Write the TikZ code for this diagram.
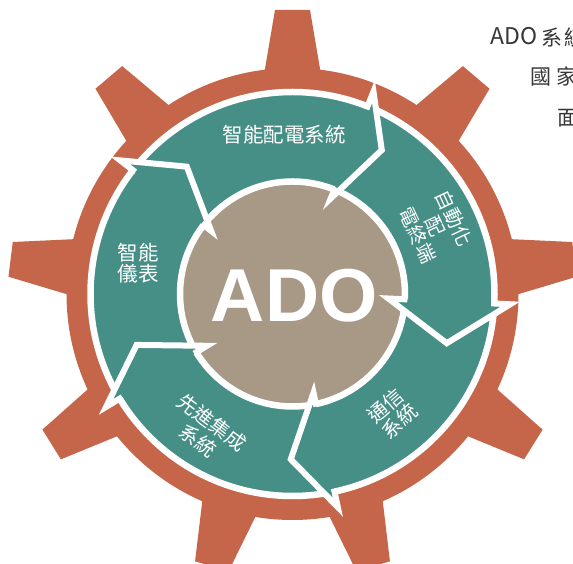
\documentclass[tikz,border=0pt]{standalone}
\usepackage{fontspec}
\newfontfamily\cjk{Noto Sans CJK TC}
\newfontfamily\adofont{Liberation Sans}
\definecolor{gearc}{RGB}{197,102,74}
\definecolor{ringc}{RGB}{70,143,134}
\definecolor{corec}{RGB}{168,152,134}
\definecolor{sidetext}{RGB}{55,55,55}
\tikzset{
  lbl/.style={text=white, font=\cjk\fontsize{20.5}{21}\selectfont, align=center, inner sep=0pt},
  side/.style={text=sidetext, font=\cjk\fontsize{21}{21}\selectfont, inner sep=0pt, anchor=base west},
  outline/.style={draw=white, line width=6.5pt},
  headline/.style={draw=white, line width=6pt, line join=miter}
}
\begin{document}
\begin{tikzpicture}[x=1pt,y=1pt]
\useasboundingbox (0,0) rectangle (573,564);
\clip (0,0) rectangle (573,564);
\begin{scope}[shift={(292.5,270)}]
  % gear
  \fill[gearc] (0,0) circle (226);
  \foreach \a in {90,49.7,7,-32,-73.5,-106.5,-148,173,130.3}
    \fill[gearc, rotate={\a-90}] (-31.8,200) -- (-17.5,284) -- (17.5,284) -- (31.8,200) -- cycle;
  % core
  \fill[corec] (0,0) circle (112.5);
  % ring
  \fill[ringc, even odd rule] (0,0) circle (202) (0,0) circle (112.5);
  \draw[outline] (0,0) circle (202) (0,0) circle (112.5);
  % arrow heads
  \foreach \t/\p/\r/\i in {68.2/58.2/169.4/103, -2.7/-17.7/161.9/96, -78/-90.6/165.3/101, -148.8/-161.9/164/100, 142.2/129.7/165.5/103} {
    \fill[ringc] (\t:218) -- (\p:\r) -- (\t:\i) -- cycle;
    \draw[headline] (\t:199) -- (\t:218) -- (\p:\r) -- (\t:\i) -- (\t:115);
  }
\end{scope}
% labels
\node[lbl] (l1) at (284.2,429) {智能配電系統};
\node[lbl] (l2) at (138.3,301) {智能\\儀表};
\node[lbl, font=\cjk\fontsize{19.5}{20}\selectfont, rotate=-65] (l3) at (435.8,337.3) {自動化\\配\\電終端};
\node[lbl, font=\cjk\fontsize{20}{21}\selectfont, rotate=41] (l4) at (392.5,150.7) {通信\\系統};
\node[lbl, font=\cjk\fontsize{20}{22}\selectfont, rotate=-37] (l5) at (205,132.8) {先進集成\\系統};
\node[text=white, inner sep=0pt, font=\adofont\bfseries\fontsize{75}{75}\selectfont] (ado) at (294.2,268) {ADO};
% side text
\node[side, font=\cjk\fontsize{23}{23}\selectfont] (s1) at (490.5,519) {ADO};
\node[side] (s2) at (541.5,518.5) {系};
\node[side] (s3) at (564.5,518.5) {統};
\node[side] (s4) at (530.5,479) {國};
\node[side] (s5) at (556,479) {家};
\node[side] (s6) at (557,438) {面};
\end{tikzpicture}
\end{document}
